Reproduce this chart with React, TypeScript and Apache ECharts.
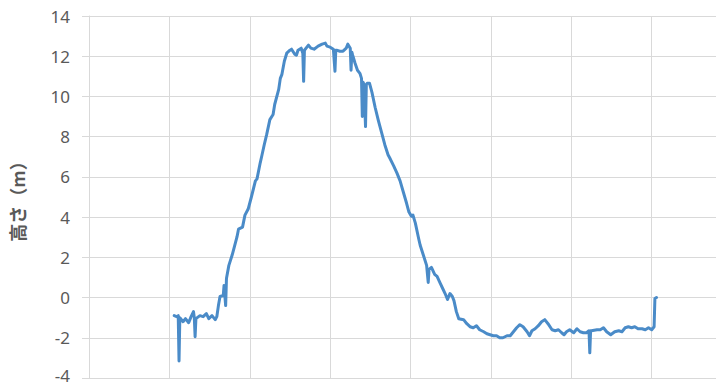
import React, { useEffect, useRef } from "react";
import * as echarts from "echarts";

const distance: number[] = [
  10.6, 10.9, 11.1, 11.2, 11.3, 11.7, 12.0, 12.4, 12.7, 13.0, 13.1, 13.2, 13.3, 13.8, 14.2, 14.6, 14.9, 15.3, 15.7, 15.9,
  16.1, 16.3, 16.7, 16.8, 17.0, 17.1, 17.4, 17.8, 18.0, 18.4, 18.6, 19.1, 19.4, 19.8, 20.2, 20.7, 20.9, 21.3, 21.5, 21.8,
  22.1, 22.5, 22.9, 23.1, 23.6, 23.8, 24.0, 24.3, 24.6, 25.0, 25.2, 25.6, 25.8, 26.0, 26.4, 26.6, 26.7, 26.8, 27.3, 27.6,
  28.0, 28.5, 29.0, 29.4, 29.6, 30.0, 30.4, 30.6, 30.7, 30.8, 31.2, 31.6, 32.0, 32.2, 32.5, 32.6, 32.7, 32.8, 33.1, 33.4,
  33.7, 33.9, 34.0, 34.1, 34.2, 34.4, 34.5, 34.6, 34.9, 35.2, 35.6, 36.0, 36.4, 36.8, 37.2, 37.4, 37.9, 38.3, 38.7, 39.1,
  39.5, 39.8, 40.1, 40.3, 40.6, 41.0, 41.2, 41.6, 42.0, 42.2, 42.3, 42.6, 43.0, 43.3, 43.7, 44.0, 44.3, 44.6, 44.9, 45.2,
  45.4, 45.7, 46.0, 46.6, 47.0, 47.4, 47.8, 48.2, 48.6, 49.1, 49.5, 49.9, 50.3, 50.7, 51.1, 51.5, 52.0, 52.4, 52.8, 53.2,
  53.6, 54.0, 54.5, 54.8, 55.1, 55.5, 55.9, 56.3, 56.7, 57.1, 57.6, 58.0, 58.4, 58.8, 59.1, 59.4, 59.8, 60.3, 60.7, 61.1,
  61.5, 61.9, 62.2, 62.3, 62.4, 62.5, 63.2, 63.6, 64.0, 64.4, 64.9, 65.4, 65.9, 66.3, 66.7, 67.1, 67.5, 67.9, 68.3, 68.8,
  69.2, 69.6, 70.0, 70.3, 70.4, 70.6,
];

const height: number[] = [
  -0.9, -0.95, -0.9, -3.15, -1.0, -1.2, -1.05, -1.25, -0.95, -0.7, -1.0, -1.95, -1.05, -0.9, -0.95, -0.8, -1.05, -0.9, -1.1, -0.95,
  -0.4, 0.05, 0.1, 0.6, -0.4, 0.95, 1.6, 2.1, 2.4, 3.0, 3.4, 3.5, 4.1, 4.4, 5.0, 5.8, 5.9, 6.7, 7.05, 7.6,
  8.1, 8.85, 9.1, 9.6, 10.35, 10.9, 11.1, 11.75, 12.15, 12.3, 12.35, 12.1, 12.05, 12.3, 12.4, 12.15, 10.75, 12.3, 12.55, 12.4,
  12.35, 12.5, 12.6, 12.65, 12.5, 12.45, 12.35, 11.25, 12.3, 12.3, 12.25, 12.25, 12.4, 12.6, 12.4, 11.3, 12.2, 12.05, 11.65, 11.3,
  11.15, 10.9, 9.0, 10.7, 10.6, 8.5, 10.6, 10.65, 10.65, 10.2, 9.45, 8.8, 8.2, 7.6, 7.1, 6.95, 6.55, 6.2, 5.8, 5.25,
  4.7, 4.25, 4.05, 4.1, 3.7, 2.95, 2.6, 2.1, 1.6, 0.75, 1.4, 1.5, 1.15, 1.05, 0.7, 0.45, 0.2, -0.1, 0.2, 0.05,
  -0.15, -0.7, -1.05, -1.1, -1.3, -1.45, -1.5, -1.4, -1.6, -1.7, -1.8, -1.85, -1.9, -1.9, -2.0, -2.0, -1.9, -1.9, -1.7, -1.5,
  -1.35, -1.45, -1.7, -1.9, -1.65, -1.55, -1.4, -1.2, -1.1, -1.3, -1.6, -1.65, -1.6, -1.75, -1.85, -1.7, -1.6, -1.75, -1.55, -1.7,
  -1.75, -1.75, -1.65, -2.75, -1.65, -1.65, -1.6, -1.6, -1.5, -1.7, -1.85, -1.7, -1.65, -1.7, -1.5, -1.45, -1.5, -1.45, -1.55, -1.55,
  -1.6, -1.5, -1.6, -1.45, -0.05, 0.0,
];

const yAxisName = "高さ（m）";
const yMin = -4;
const yMax = 14;
const yStep = 2;
const xMin = 0;
const xMax = 78;
const xStep = 10;

export default function App() {
  const ref = useRef<HTMLDivElement>(null);
  useEffect(() => {
    if (!ref.current) return;
    const chart = echarts.init(ref.current, undefined, { renderer: "svg" });
    const grey = "#d9d9d9";
    const data = distance.map((d, i) => [d, height[i]]);
    chart.setOption({
      animation: false,
      backgroundColor: "#ffffff",
      grid: { left: 89, right: 0, top: 16, bottom: 9, containLabel: false },
      xAxis: {
        type: "value",
        min: xMin,
        max: xMax,
        interval: xStep,
        axisLabel: { show: false },
        axisTick: { show: false },
        axisLine: { show: true, lineStyle: { color: grey, width: 1 } },
        splitLine: { show: true, showMaxLine: false, lineStyle: { color: grey, width: 1 } },
      },
      yAxis: {
        type: "value",
        min: yMin,
        max: yMax,
        interval: yStep,
        name: yAxisName,
        nameLocation: "middle",
        nameRotate: 90,
        nameGap: 63,
        nameTextStyle: { fontFamily: "Noto Sans CJK JP", fontSize: 18, fontWeight: "bold", color: "#595959" },
        axisLabel: {
          fontFamily: "Noto Sans",
          fontSize: 17,
          lineHeight: 14,
          color: "#595959",
          margin: 19,
          formatter: (v: number) => (v === yMin ? `{low|${v}}` : `${v}`),
          rich: {
            low: { fontFamily: "Noto Sans", fontSize: 17, lineHeight: 14, color: "#595959", padding: [0, 0, 5, 0] },
          },
        },
        axisTick: { show: true, length: 7, lineStyle: { color: grey } },
        axisLine: { show: true, lineStyle: { color: grey, width: 1 } },
        splitLine: { show: true, lineStyle: { color: grey, width: 1 } },
      },
      series: [
        {
          type: "line",
          data,
          showSymbol: false,
          symbol: "none",
          lineStyle: { color: "#4a8bc8", width: 3, join: "round", cap: "round" },
        },
      ],
    });
    return () => chart.dispose();
  }, []);
  return (
    <div
      ref={ref}
      style={{ position: "fixed", left: 0, top: 0, width: 716, height: 389 }}
    />
  );
}
